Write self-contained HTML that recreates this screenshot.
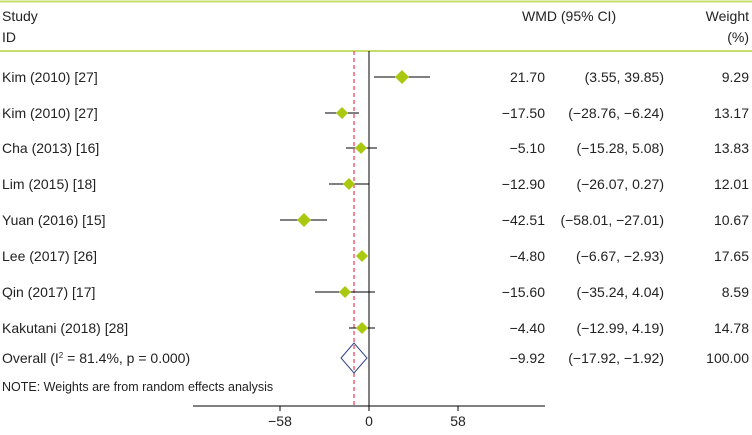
<!DOCTYPE html>
<html><head><style>
body{margin:0;background:#fff;}
svg text{font-family:"Liberation Sans",sans-serif;font-size:14px;fill:#222;}
</style></head><body>
<svg width="752" height="430" xmlns="http://www.w3.org/2000/svg">
<line x1="0" y1="1.5" x2="752" y2="1.5" stroke="#c5de6a" stroke-width="2"/>
<line x1="0" y1="51" x2="752" y2="51" stroke="#c5de6a" stroke-width="2"/>
<text x="2" y="21">Study</text>
<text x="2" y="42">ID</text>
<text x="522" y="21">WMD (95% CI)</text>
<text x="749" y="21" text-anchor="end">Weight</text>
<text x="749" y="42" text-anchor="end">(%)</text>
<line x1="369" y1="51" x2="369" y2="406" stroke="#000" stroke-width="1"/>
<line x1="354" y1="51" x2="354" y2="406" stroke="#f06070" stroke-width="1.5" stroke-dasharray="4,3"/>
<line x1="193" y1="406" x2="545" y2="406" stroke="#000"/>
<line x1="280" y1="406" x2="280" y2="411" stroke="#000"/>
<line x1="369" y1="406" x2="369" y2="411" stroke="#000"/>
<line x1="458" y1="406" x2="458" y2="411" stroke="#000"/>
<text x="280" y="426" text-anchor="middle">−58</text>
<text x="369" y="426" text-anchor="middle">0</text>
<text x="458" y="426" text-anchor="middle">58</text>
<g stroke="#000" stroke-width="1">
<line x1="374" y1="77" x2="430" y2="77"/>
<line x1="325" y1="113" x2="359" y2="113"/>
<line x1="346" y1="148" x2="377" y2="148"/>
<line x1="329" y1="184" x2="369" y2="184"/>
<line x1="280" y1="220" x2="327" y2="220"/>
<line x1="359" y1="256" x2="365" y2="256"/>
<line x1="315" y1="292" x2="375" y2="292"/>
<line x1="349" y1="328" x2="375" y2="328"/>
</g>
<g fill="#a9c80f">
<polygon points="402,70 409,77 402,84 395,77"/>
<polygon points="342,107 348,113 342,119 336,113"/>
<polygon points="361,142 367,148 361,154 355,148"/>
<polygon points="349,178 355,184 349,190 343,184"/>
<polygon points="304,213 311,220 304,227 297,220"/>
<polygon points="362,250 368,256 362,262 356,256"/>
<polygon points="345,286 351,292 345,298 339,292"/>
<polygon points="362,322 368,328 362,334 356,328"/>
</g>
<polygon points="341,358 354,343 367,358 354,373" fill="none" stroke="#334488" stroke-width="1"/>
<text x="2" y="82">Kim (2010) [27]</text>
<text x="2" y="118">Kim (2010) [27]</text>
<text x="2" y="153">Cha (2013) [16]</text>
<text x="2" y="189">Lim (2015) [18]</text>
<text x="2" y="225">Yuan (2016) [15]</text>
<text x="2" y="261">Lee (2017) [26]</text>
<text x="2" y="297">Qin (2017) [17]</text>
<text x="2" y="333">Kakutani (2018) [28]</text>
<text x="2" y="363">Overall (I<tspan font-size="8" dy="-5">2</tspan><tspan dy="5"> = 81.4%, p = 0.000)</tspan></text>
<text x="2" y="391" style="font-size:12.5px">NOTE: Weights are from random effects analysis</text>
<g text-anchor="end">
<text x="545" y="82">21.70</text><text x="664" y="82">(3.55, 39.85)</text><text x="749" y="82">9.29</text>
<text x="545" y="118">−17.50</text><text x="664" y="118">(−28.76, −6.24)</text><text x="749" y="118">13.17</text>
<text x="545" y="153">−5.10</text><text x="664" y="153">(−15.28, 5.08)</text><text x="749" y="153">13.83</text>
<text x="545" y="189">−12.90</text><text x="664" y="189">(−26.07, 0.27)</text><text x="749" y="189">12.01</text>
<text x="545" y="225">−42.51</text><text x="664" y="225">(−58.01, −27.01)</text><text x="749" y="225">10.67</text>
<text x="545" y="261">−4.80</text><text x="664" y="261">(−6.67, −2.93)</text><text x="749" y="261">17.65</text>
<text x="545" y="297">−15.60</text><text x="664" y="297">(−35.24, 4.04)</text><text x="749" y="297">8.59</text>
<text x="545" y="333">−4.40</text><text x="664" y="333">(−12.99, 4.19)</text><text x="749" y="333">14.78</text>
<text x="545" y="363">−9.92</text><text x="664" y="363">(−17.92, −1.92)</text><text x="749" y="363">100.00</text>
</g>
</svg>
</body></html>
